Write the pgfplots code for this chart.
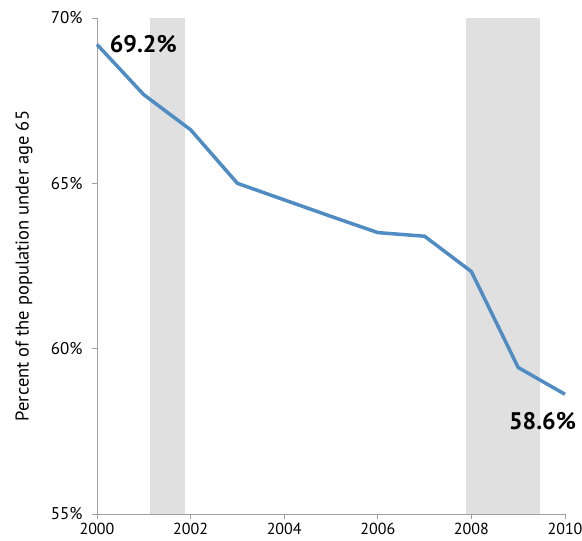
\documentclass[border=0pt]{standalone}
\usepackage{pgfplots}
\pgfplotsset{compat=1.18}
\usepackage{fontspec}
\setmainfont{PT Sans}
\definecolor{lineblue}{RGB}{79,140,196}
\definecolor{recshade}{RGB}{224,224,224}
\definecolor{axgray}{RGB}{160,160,160}
\begin{document}
\begin{tikzpicture}
\useasboundingbox (-97bp,-27bp) rectangle (485bp,514bp);
\begin{axis}[
  at={(0,0)}, anchor=south west,
  scale only axis,
  width=468bp, height=496bp,
  xmin=2000, xmax=2010, ymin=55, ymax=70,
  axis x line*=bottom, axis y line*=left,
  axis line style={axgray, line width=0.8bp, -},
  xtick={2000,2002,...,2010},
  ytick={55,60,65,70},
  yticklabel={\pgfmathprintnumber{\tick}\%},
  /pgf/number format/1000 sep={},
  /pgf/number format/assume math mode=true,
  tick style={axgray, line width=0.8bp},
  tick align=outside,
  major tick length=5bp,
  ticklabel style={font=\fontsize{16bp}{19bp}\selectfont, black},
  yticklabel style={xshift=-6bp, font=\fontsize{17bp}{20bp}\selectfont},
  xticklabel style={yshift=-1bp},
  ylabel={Percent of the population under age 65},
  ylabel style={font=\fontsize{18.5bp}{21bp}\selectfont, at={(axis description cs:-0.156,0.5)}, anchor=center},
  clip=false,
]
\fill[recshade] (axis cs:2001.13,55) rectangle (axis cs:2001.87,70);
\fill[recshade] (axis cs:2007.88,55) rectangle (axis cs:2009.46,70);
\addplot[lineblue, line width=3.5bp, line join=round] coordinates {
(2000,69.2) (2001,67.68) (2002,66.62) (2003,65.0) (2004,64.5)
(2005,64.0) (2006,63.51) (2007,63.4) (2008,62.33) (2009,59.43) (2010,58.62)
};
\node[anchor=west, font=\fontsize{24bp}{27bp}\selectfont\bfseries] at (axis cs:2000.2,69.22) {69.2\%};
\node[font=\fontsize{24bp}{27bp}\selectfont\bfseries] at (axis cs:2009.52,57.8) {58.6\%};
\end{axis}
\end{tikzpicture}
\end{document}
